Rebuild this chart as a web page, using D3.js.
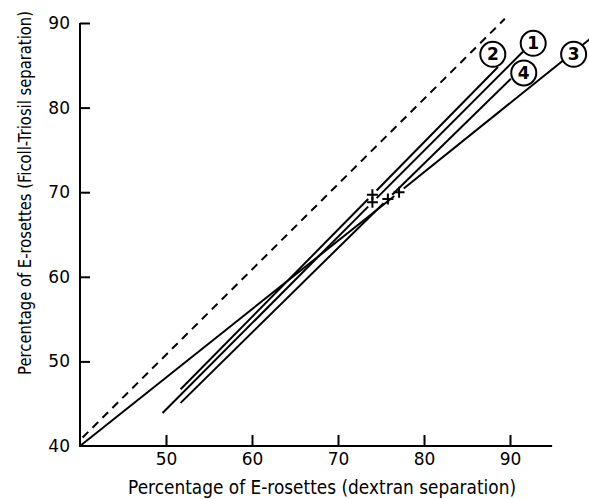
<!DOCTYPE html>
<html>
    <head>
        <meta charset="utf-8" />
        <title>E-rosettes: dextran vs Ficoll-Triosil</title>
        <style>
            body { margin: 0; background: #fff; }
            text { font-family: 'DejaVu Sans', sans-serif; fill: #000; }
        </style>
    </head>
    <body>
    <script src="https://cdn.jsdelivr.net/npm/d3@7/dist/d3.min.js"></script>
    <script>
        // regression lines, one per group
        var lineNames = ['1', '2', '3', '4'];
        var startX = [49.6, 51.7, 40.0, 51.7];
        var startY = [43.9, 46.7, 40.0, 45.1];
        var meanX  = [74.0, 74.0, 77.1, 75.8];
        var meanY  = [68.8, 69.7, 70.0, 69.2];
        var endX   = [91.5, 88.6, 100.5, 90.1];
        var endY   = [86.6, 84.8, 89.1, 83.4];
        // where the circled numbers sit
        var labelX = [92.7, 88.0, 97.4, 91.6];
        var labelY = [87.6, 86.3, 86.3, 84.1];

        // line of identity (dashed)
        var identityX = [40.3, 89.4];
        var identityY = [41.0, 90.5];

        var xTicks = [50, 60, 70, 80, 90];
        var yTicks = [40, 50, 60, 70, 80, 90];
        var xAxisEnd = 94.9;

        var width = 589,
            height = 499;

        var svg = d3.select('body').append('svg')
                    .attr('width', width)
                    .attr('height', height);

        var x = d3.scaleLinear().domain([40, 90]).range([80, 510]);
        var y = d3.scaleLinear().domain([40, 90]).range([446, 23]);

        // axes, ticks pointing inward
        var xAxis = svg.append('g')
            .attr('transform', 'translate(0,' + y(40) + ')')
            .call(d3.axisBottom(x).tickValues(xTicks).tickSizeInner(-11).tickSizeOuter(0).tickPadding(7));
        var yAxis = svg.append('g')
            .attr('transform', 'translate(' + x(40) + ',0)')
            .call(d3.axisLeft(y).tickValues(yTicks).tickSizeInner(-10).tickSizeOuter(0).tickPadding(10));

        [xAxis, yAxis].forEach(function(g){
            g.select('.domain').remove();
            g.selectAll('line').attr('stroke', '#000').attr('stroke-width', 2);
            g.selectAll('text')
                .style('font-family', "'DejaVu Sans', sans-serif")
                .style('font-size', '17px')
                .attr('fill', '#000');
        });
        yAxis.selectAll('.tick').filter(function(d){ return d === 40; }).select('line').remove();

        svg.append('line')
            .attr('x1', x(40) - 1).attr('x2', x(xAxisEnd))
            .attr('y1', y(40)).attr('y2', y(40))
            .attr('stroke', '#000').attr('stroke-width', 2);
        svg.append('line')
            .attr('x1', x(40)).attr('x2', x(40))
            .attr('y1', y(40) + 1).attr('y2', y(90))
            .attr('stroke', '#000').attr('stroke-width', 2);

        // axis titles: font size picked so the natural width matches the figure
        function fitTitle(sel, target) {
            sel.style('font-size', '16px');
            var w = sel.node().getComputedTextLength();
            sel.style('font-size', (16 * target / w) + 'px');
        }
        var xTitle = svg.append('g')
            .attr('transform', 'translate(322,494) scale(1,1.15)')
          .append('text')
            .attr('text-anchor', 'middle')
            .text('Percentage of E-rosettes (dextran separation)');
        fitTitle(xTitle, 388);

        var yTitle = svg.append('g')
            .attr('transform', 'translate(31,193) rotate(-90) scale(1,1.15)')
          .append('text')
            .attr('text-anchor', 'middle')
            .text('Percentage of E-rosettes (Ficoll-Triosil separation)');
        fitTitle(yTitle, 364);

        // dashed identity line
        svg.append('line')
            .attr('x1', x(identityX[0])).attr('y1', y(identityY[0]))
            .attr('x2', x(identityX[1])).attr('y2', y(identityY[1]))
            .attr('stroke', '#000').attr('stroke-width', 2)
            .attr('stroke-dasharray', '8,6');

        // solid lines, broken around the mean cross
        var gap = 6;
        var lines = svg.append('g');
        lineNames.forEach(function(name, i){
            var x0 = x(startX[i]), y0 = y(startY[i]),
                xm = x(meanX[i]),  ym = y(meanY[i]),
                x1 = x(endX[i]),   y1 = y(endY[i]);
            var dx = x1 - x0, dy = y1 - y0, len = Math.sqrt(dx*dx + dy*dy);
            var ux = dx / len, uy = dy / len;
            lines.append('line')
                .attr('x1', x0).attr('y1', y0)
                .attr('x2', xm - ux*gap).attr('y2', ym - uy*gap);
            lines.append('line')
                .attr('x1', xm + ux*gap).attr('y1', ym + uy*gap)
                .attr('x2', x1).attr('y2', y1);
            lines.append('path')
                .attr('d', 'M' + (xm-5.5) + ',' + ym + 'H' + (xm+5.5) + 'M' + xm + ',' + (ym-5.5) + 'V' + (ym+5.5));
        });
        lines.selectAll('line, path')
            .attr('stroke', '#000').attr('stroke-width', 2).attr('fill', 'none');

        // circled labels
        var labels = svg.selectAll('.lab')
            .data(lineNames)
          .enter().append('g')
            .attr('class', 'lab')
            .attr('transform', function(d, i){ return 'translate(' + x(labelX[i]) + ',' + y(labelY[i]) + ')'; });
        labels.append('circle')
            .attr('r', 12.5)
            .attr('fill', '#fff')
            .attr('stroke', '#000')
            .attr('stroke-width', 2);
        labels.append('text')
            .attr('text-anchor', 'middle')
            .attr('dy', '0.36em')
            .style('font-size', '17px')
            .style('font-weight', 'bold')
            .text(function(d){ return d; });
    </script>
    </body>
</html>
